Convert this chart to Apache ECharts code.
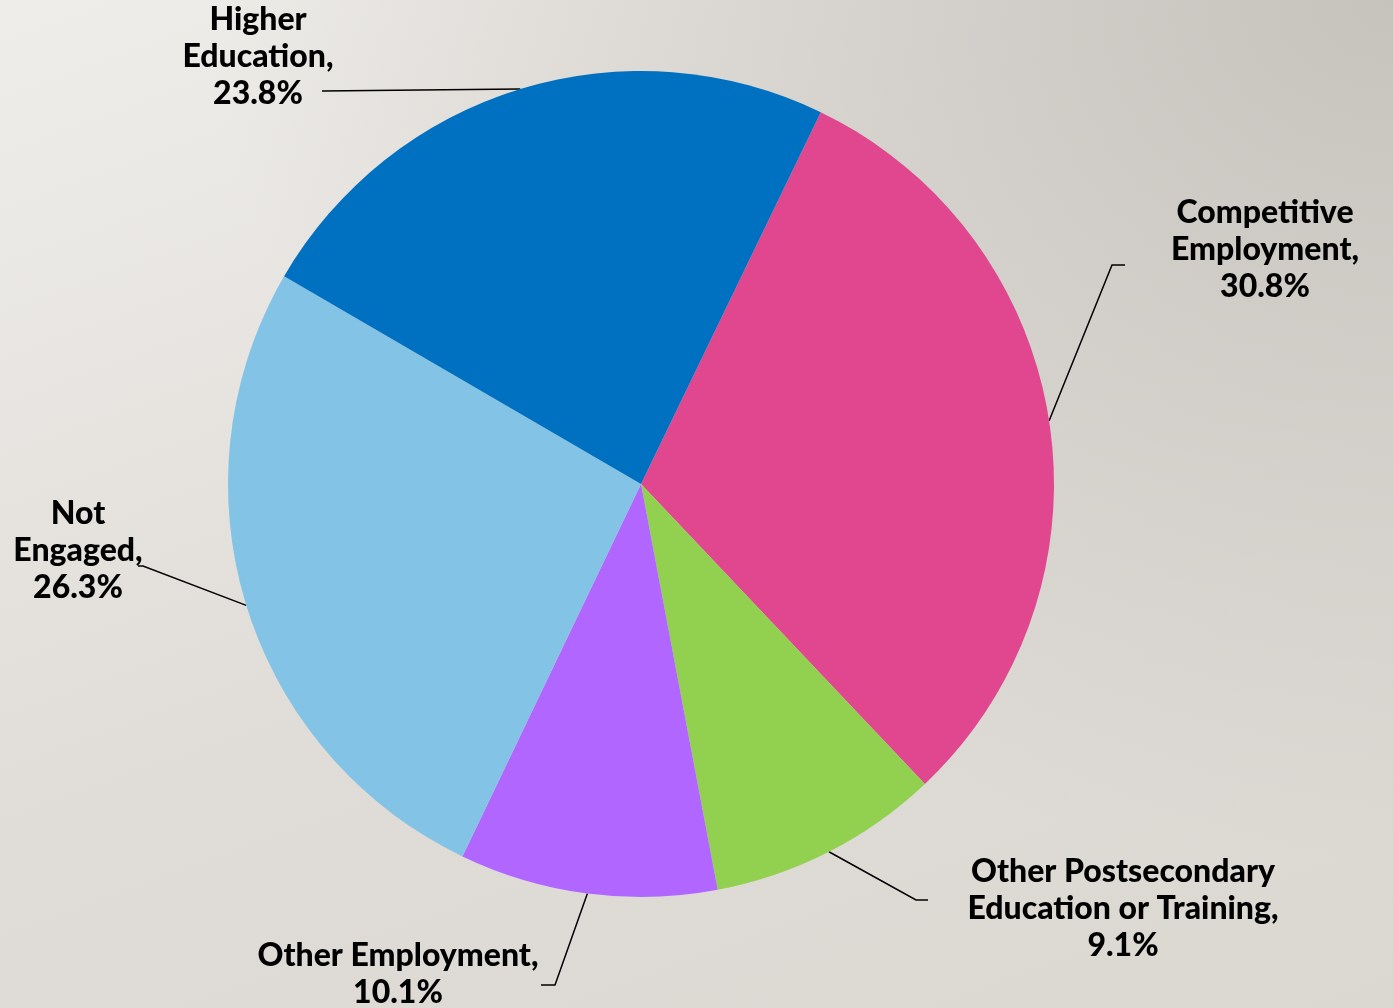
<!DOCTYPE html>
<html lang="en">
  <head>
    <meta charset="UTF-8" />
    <title>Post-school outcomes</title>
    <style>
      html, body { margin: 0; padding: 0; }
      .box {
        width: 1393px;
        height: 1008px;
        background:
          radial-gradient(ellipse at 100% 0%, #c6c2bc 0%, rgba(220,217,211,0) 60%),
          linear-gradient(160deg, #efedea 0%, #e0ddd8 55%, #dbd8d2 100%);
      }
    </style>
  </head>
  <body>
    <div class="box"></div>
    <script src="https://cdn.jsdelivr.net/npm/echarts@6/dist/echarts.min.js"></script>
    <script>
      // data, clockwise from the top
      var categories = [
        'Competitive Employment',
        'Other Postsecondary Education or Training',
        'Other Employment',
        'Not Engaged',
        'Higher Education'
      ];
      var percents = [30.8, 9.1, 10.1, 26.3, 23.8];
      var labelLines = [
        'Competitive\nEmployment,',
        'Other Postsecondary\nEducation or Training,',
        'Other Employment,',
        'Not\nEngaged,',
        'Higher\nEducation,'
      ];
      var colors = ['#e0478e', '#92d050', '#b066ff', '#82c3e6', '#0070c0'];

      // where each label sits, and the bend/end of its leader line
      var labelSpots = [
        { x: 1265, y: 250, bend: [1112, 265], end: [1125, 265] },
        { x: 1123, y: 909, bend: [916, 900], end: [928, 900] },
        { x: 398, y: 974, bend: [555, 985], end: [541, 985] },
        { x: 78, y: 551, bend: [143, 566], end: [138, 566] },
        { x: 258, y: 57, bend: [420, 90], end: [322, 91] }
      ];

      var myChart = echarts.init(document.querySelector('.box'));

      var option = {
        backgroundColor: 'transparent',
        color: colors,
        series: [
          {
            type: 'pie',
            center: [641, 484],
            radius: 413,
            startAngle: 64.2,
            clockwise: true,
            animation: false,
            silent: true,
            data: categories.map(function (c, i) {
              return { name: c, value: percents[i] };
            }),
            label: {
              show: true,
              position: 'outside',
              fontFamily: 'Lato',
              fontWeight: 900,
              fontSize: 32,
              lineHeight: 37,
              color: '#000',
              align: 'center',
              formatter: function (p) {
                return labelLines[p.dataIndex] + '\n' + p.value.toFixed(1) + '%';
              }
            },
            labelLine: {
              show: true,
              lineStyle: { color: '#000', width: 1.5 }
            },
            labelLayout: function (p) {
              var s = labelSpots[p.dataIndex];
              var start = p.labelLinePoints ? p.labelLinePoints[0] : s.bend;
              return {
                x: s.x,
                y: s.y,
                align: 'center',
                verticalAlign: 'middle',
                labelLinePoints: [start, s.bend, s.end]
              };
            }
          }
        ]
      };
      myChart.setOption(option);
    </script>
  </body>
</html>
